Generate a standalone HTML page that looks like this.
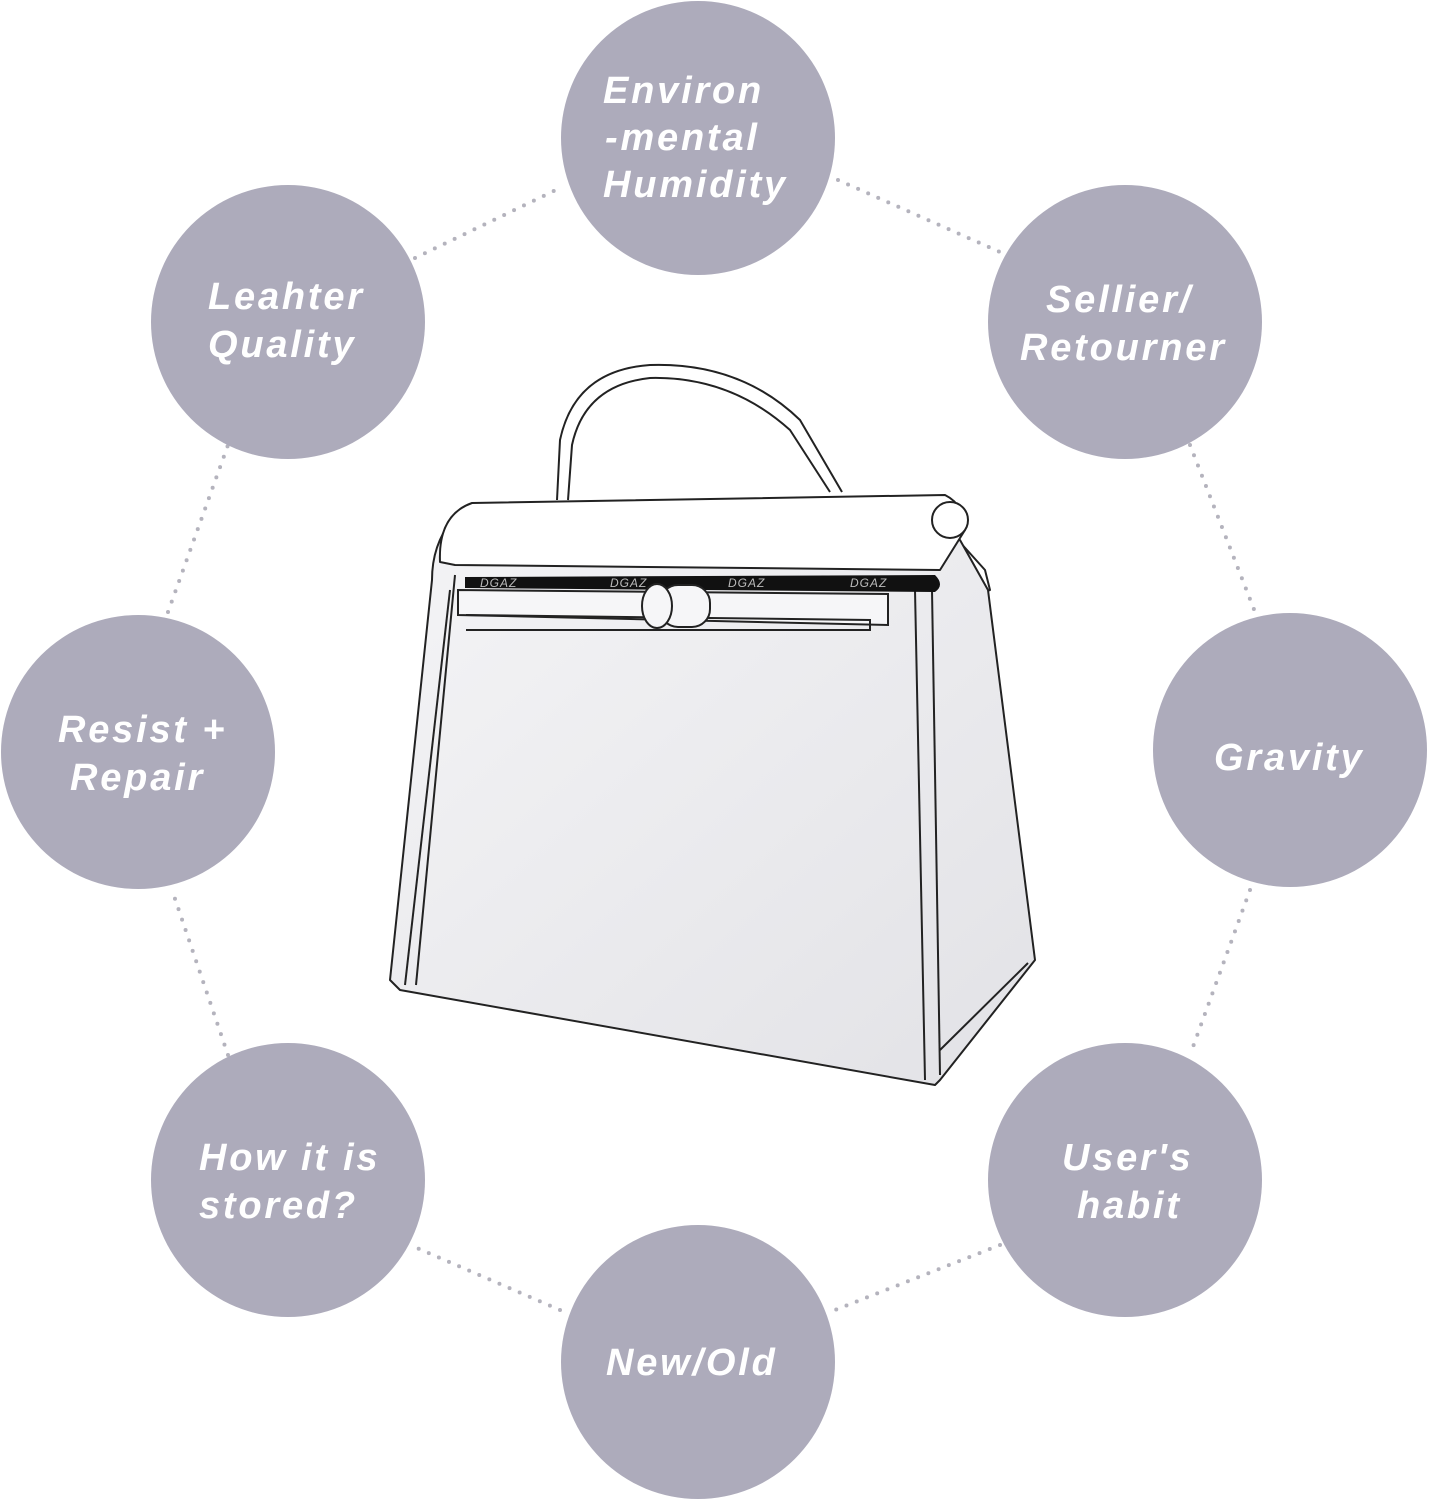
<!DOCTYPE html>
<html><head><meta charset="utf-8"><style>
html,body{margin:0;padding:0;background:#fff;}
svg{display:block;}
text{font-family:"Liberation Sans",sans-serif;font-weight:bold;font-style:italic;font-size:38px;fill:#fff;letter-spacing:2.8px;}
</style></head><body>
<svg width="1431" height="1500" viewBox="0 0 1431 1500" xmlns="http://www.w3.org/2000/svg">
<defs>
<linearGradient id="g" x1="0" y1="0" x2="1" y2="1">
<stop offset="0" stop-color="#f4f4f6"/><stop offset="1" stop-color="#e2e2e6"/>
</linearGradient>
</defs>
<g stroke="#b4b3bd" stroke-width="4" stroke-linecap="round" stroke-dasharray="0 11" fill="none">
<line x1="415" y1="258" x2="560" y2="188"/>
<line x1="838" y1="180" x2="1000" y2="252"/>
<line x1="1190" y1="445" x2="1255" y2="612"/>
<line x1="1250" y1="890" x2="1190" y2="1055"/>
<line x1="1000" y1="1245" x2="835" y2="1310"/>
<line x1="560" y1="1310" x2="410" y2="1245"/>
<line x1="228" y1="1055" x2="172" y2="890"/>
<line x1="168" y1="612" x2="228" y2="445"/>
</g>
<g fill="#adabbb">
<circle cx="698" cy="138" r="137"/>
<circle cx="288" cy="322" r="137"/>
<circle cx="1125" cy="322" r="137"/>
<circle cx="138" cy="752" r="137"/>
<circle cx="1290" cy="750" r="137"/>
<circle cx="288" cy="1180" r="137"/>
<circle cx="1125" cy="1180" r="137"/>
<circle cx="698" cy="1362" r="137"/>
</g>
<g stroke="#222" stroke-width="2" fill="none" stroke-linejoin="round">
<path d="M557 500 L560 440 Q575 370 650 365 Q740 362 800 420 L842 492" fill="#fff"/>
<path d="M568 500 L572 445 Q585 385 650 378 Q730 376 790 430 L830 492"/>
<path d="M940 520 L985 570 L990 590 L975 595 L948 560"/>
<path d="M452 520 Q432 545 432 580 L390 980 L400 990 L935 1085 L940 1080 L1035 960 L988 590 L960 540 Z" fill="url(#g)"/>
<path d="M405 985 L450 590"/>
<path d="M455 575 L416 985"/>
<path d="M915 590 L925 1080"/>
<path d="M932 590 L940 1075"/>
<path d="M940 1050 L1028 963"/>
<path d="M472 503 L945 495 Q965 505 965 530 L940 570 L455 565 L440 562 Q438 515 472 503 Z" fill="#fff"/>
<circle cx="950" cy="520" r="18" fill="#fff"/>
</g>
<path d="M465 577 L935 575 Q945 585 935 592 L465 588 Z" fill="#111"/>
<g stroke="#222" stroke-width="2" fill="#f6f6f8">
<path d="M458 590 L888 594 L888 625 L458 615 Z"/>
<path d="M466 615 L870 620 L870 630 L466 630" fill="none"/>
<rect x="660" y="585" width="50" height="42" rx="18"/>
<ellipse cx="657" cy="606" rx="15" ry="22"/>
</g>
<text x="480" y="587" style="font-size:12px;font-weight:normal;fill:#bbb;letter-spacing:1px">DGAZ</text>
<text x="610" y="587" style="font-size:12px;font-weight:normal;fill:#bbb;letter-spacing:1px">DGAZ</text>
<text x="728" y="587" style="font-size:12px;font-weight:normal;fill:#bbb;letter-spacing:1px">DGAZ</text>
<text x="850" y="587" style="font-size:12px;font-weight:normal;fill:#bbb;letter-spacing:1px">DGAZ</text>
<text x="603" y="103">Environ</text>
<text x="605" y="150">-mental</text>
<text x="603" y="197">Humidity</text>
<text x="208" y="309">Leahter</text>
<text x="208" y="357">Quality</text>
<text x="1046" y="312">Sellier/</text>
<text x="1020" y="360">Retourner</text>
<text x="58" y="742">Resist +</text>
<text x="70" y="790">Repair</text>
<text x="1214" y="770">Gravity</text>
<text x="199" y="1170">How it is</text>
<text x="199" y="1218">stored?</text>
<text x="1062" y="1170">User's</text>
<text x="1077" y="1218">habit</text>
<text x="606" y="1375">New/Old</text>
</svg>
</body></html>
